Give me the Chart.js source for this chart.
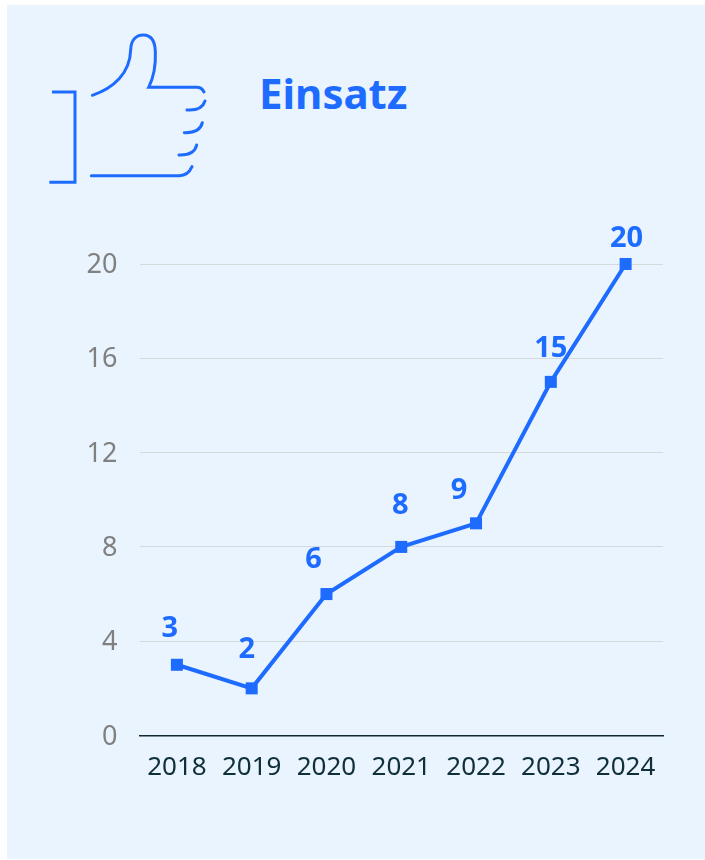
<!DOCTYPE html>
<html><head><meta charset="utf-8">
<script src="https://cdn.jsdelivr.net/npm/chart.js@4"></script>
<style>
html,body{margin:0;padding:0;background:#fff;width:705px;height:860px;overflow:hidden}
#panel{position:absolute;left:7px;top:5px;width:698px;height:854px;background:#EAF4FF}
#wrap{position:absolute;left:0;top:0;width:705px;height:860px}
#title{position:absolute;left:259px;top:65px;font:700 42px "Noto Sans",sans-serif;color:#1E6BFF;line-height:56px}
svg{position:absolute;left:30px;top:20px}
</style></head><body>
<div id="panel"></div>
<svg width="400" height="180" viewBox="0 0 1200 540" fill="none" stroke="#1E6BFF" stroke-width="9" stroke-linecap="round">
<path stroke-linecap="butt" d="M66 216H135V487H58"/>
<path d="M187 226C250 205 300 160 302 90C303 60 318 45 340 45C362 45 375 62 376 95C378 140 372 170 356 202H500C512 202 518 208 522 216"/>
<path d="M471 270C500 272 518 265 525 243"/>
<path d="M463 338C495 339 512 330 517 308"/>
<path d="M447 405C478 406 495 398 500 375"/>
<path d="M184 467H448C466 467 478 458 486 440"/>
</svg>
<div id="title">Einsatz</div>
<div id="wrap"><canvas id="c" width="705" height="860"></canvas></div>
<script>
const categories=['2018','2019','2020','2021','2022','2023','2024'];
const values=[3,2,6,8,9,15,20];
const yTicks=[0,4,8,12,16,20];
const labelShift=[[-7,-36],[-5,-39],[-13,-34],[-1,-41],[-17,-33],[0,-33],[1,-25.5]];
const BLUE='#1E6BFF';
const valueLabels={id:'valueLabels',
 beforeDraw(ch){
  ch.scales.y.getLabelItems().forEach(it=>{
    if(!it._moved){it.options.translation[1]+=1.5;it._moved=true;}
  });
 },
 afterDatasetsDraw(ch){
  const c=ch.ctx,m=ch.getDatasetMeta(0);
  c.save();c.font='700 29px "Noto Sans",sans-serif';c.fillStyle=BLUE;c.textAlign='center';c.textBaseline='middle';
  m.data.forEach((p,i)=>c.fillText(String(values[i]),p.x+labelShift[i][0],p.y+labelShift[i][1]));
  c.restore();
 }};
new Chart(document.getElementById('c'),{
 type:'line',
 data:{labels:categories,datasets:[{data:values,borderColor:BLUE,backgroundColor:BLUE,borderWidth:4,tension:0,clip:false,
   pointStyle:'rect',pointRadius:8.5,pointHoverRadius:8.5,pointBackgroundColor:BLUE,pointBorderColor:BLUE,pointBorderWidth:0}]},
 plugins:[valueLabels],
 options:{responsive:false,animation:false,
  layout:{padding:{left:0,right:42,top:264,bottom:0}},
  plugins:{legend:{display:false},tooltip:{enabled:false},title:{display:false}},
  scales:{
   x:{offset:true,grid:{display:false,drawTicks:false},border:{display:true,color:'#0F2A33',width:1.5},
      ticks:{color:'#0F2F3A',font:{family:'"Noto Sans"',size:26},padding:16,maxRotation:0,autoSkip:false},
      afterFit(s){s.height=124.5}},
   y:{min:0,max:20,afterBuildTicks(s){s.ticks=yTicks.map(v=>({value:v}))},
      grid:{color:'#D4D9DC',lineWidth:1,drawTicks:false},border:{display:false},
      ticks:{color:'#808080',font:{family:'"Noto Sans"',size:27},padding:22},
      afterFit(s){s.width=139.5}}
  }
 }
});
</script>
</body></html>
